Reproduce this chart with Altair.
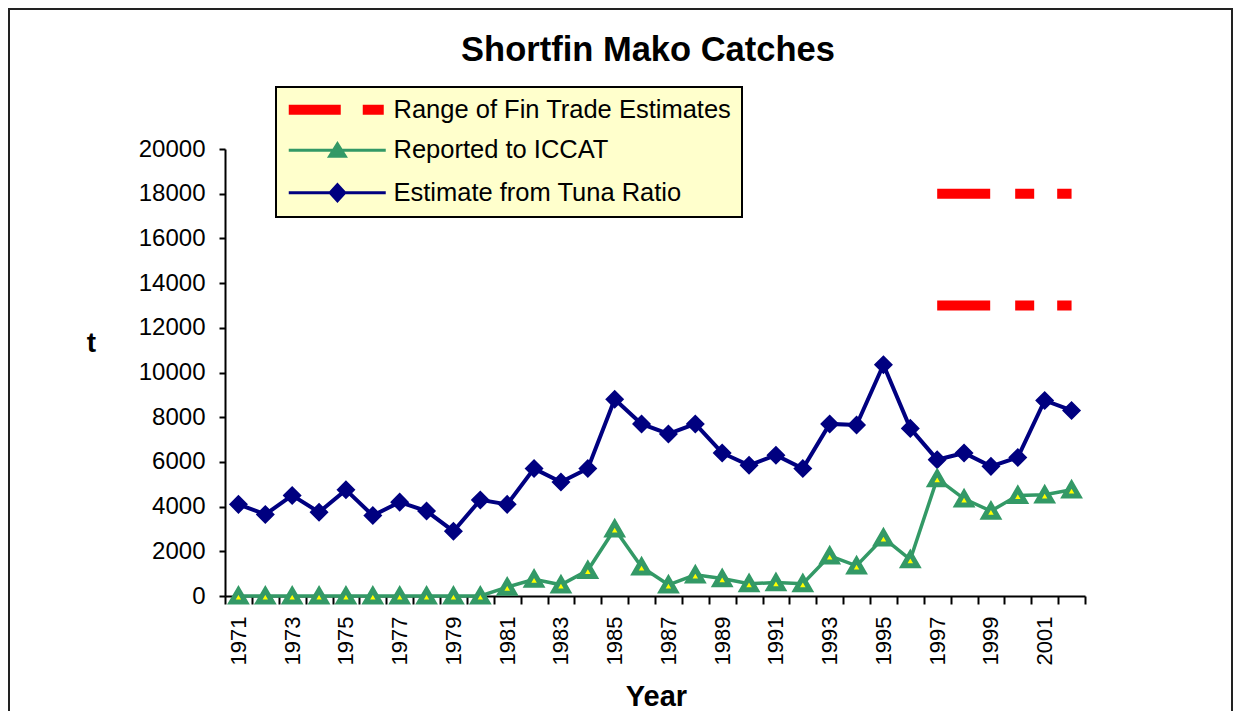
import altair as alt
import pandas as pd

FONT = "Liberation Sans"

# ---- data ----
years = [1971, 1972, 1973, 1974, 1975, 1976, 1977, 1978, 1979, 1980,
         1981, 1982, 1983, 1984, 1985, 1986, 1987, 1988, 1989, 1990,
         1991, 1992, 1993, 1994, 1995, 1996, 1997, 1998, 1999, 2000,
         2001, 2002]
tuna_ratio = [4100, 3650, 4500, 3750, 4750, 3600, 4200, 3800, 2900, 4300,
              4100, 5700, 5100, 5700, 8800, 7700, 7250, 7700, 6400, 5850,
              6300, 5700, 7700, 7650, 10350, 7500, 6100, 6400, 5800, 6200,
              8750, 8300]
iccat = [0, 0, 0, 0, 0, 0, 0, 0, 0, 0,
         400, 750, 500, 1150, 3000, 1300, 500, 950, 780, 550,
         600, 550, 1800, 1350, 2600, 1630, 5250, 4350, 3800, 4500,
         4530, 4750]
fin_years = [1997, 2002]
fin_low = 13000
fin_high = 18000

series_names = ["Range of Fin Trade Estimates", "Reported to ICCAT",
                "Estimate from Tuna Ratio"]
y_ticks = [0, 2000, 4000, 6000, 8000, 10000, 12000, 14000, 16000, 18000, 20000]

RED = "#FF0000"
GREEN = "#339966"
NAVY = "#000080"
YELLOW = "#FFFF00"

tuna_df = pd.DataFrame({"Year": years, "t": tuna_ratio})
iccat_df = pd.DataFrame({"Year": years, "t": iccat})
fin_df = pd.DataFrame({
    "Year": fin_years + fin_years,
    "t": [fin_high] * len(fin_years) + [fin_low] * len(fin_years),
    "bound": ["high"] * len(fin_years) + ["low"] * len(fin_years),
})

x_axis = alt.Axis(
    tickBand="extent",
    labelExpr="datum.value % 2 == 1 ? datum.label : ''",
    labelAngle=270, labelFontSize=22, labelFont=FONT, labelColor="black",
    labelPadding=12, labelOverlap=False,
    tickSize=8, tickWidth=2, tickColor="black",
    domainColor="black", domainWidth=2, grid=False,
    title="Year", titleFont=FONT, titleFontSize=29, titleFontWeight="bold",
    titleColor="black", titleX=431, titleY=109, titleAlign="center",
    titleBaseline="alphabetic", titleAngle=0,
)
y_axis = alt.Axis(
    values=y_ticks, format="d", labelFontSize=24, labelFont=FONT, labelColor="black",
    labelPadding=14, tickSize=6, tickWidth=2, tickColor="black",
    domainColor="black", domainWidth=2, grid=False,
    title="t", titleFont=FONT, titleFontSize=28, titleFontWeight="bold",
    titleColor="black", titleAngle=0, titleX=-134, titleY=202,
    titleAlign="center", titleBaseline="alphabetic",
)


def X():
    return alt.X("Year:O",
                 scale=alt.Scale(type="band", domain=years,
                                 paddingInner=0, paddingOuter=0),
                 bandPosition=0.5, axis=x_axis)


def Y():
    return alt.Y("t:Q", scale=alt.Scale(domain=[0, 20000], nice=False),
                 axis=y_axis)


fin_lines = alt.Chart(fin_df).mark_line(
    color=RED, strokeWidth=10, strokeDash=[53, 25, 19, 23], strokeCap="butt"
).encode(x=X(), y=Y(), detail="bound:N")

tuna_line = alt.Chart(tuna_df).mark_line(color=NAVY, strokeWidth=4).encode(x=X(), y=Y())
tuna_pts = alt.Chart(tuna_df).mark_point(
    shape="diamond", filled=True, size=240, color=NAVY, stroke=NAVY, strokeWidth=2.5, opacity=1
).encode(x=X(), y=Y())

iccat_line = alt.Chart(iccat_df).mark_line(color=GREEN, strokeWidth=3.5).encode(x=X(), y=Y())
iccat_pts = alt.Chart(iccat_df).mark_point(
    shape="triangle-up", filled=True, size=200, fill=YELLOW, stroke=GREEN,
    strokeWidth=5, opacity=1
).encode(x=X(), y=Y())

# legend (entries come from the explicit scale domain; no marks drawn)
legend_paths = [
    "M-0.85,-0.35H4.05V0.35H-0.85Z M6.55,-0.35H8.35V0.35H6.55Z",
    "M-1,0H8.7 M3.87,-0.65L4.65,0.6H3.09Z",
    "M-1,0H8.7 M3.87,-0.8L4.6,0L3.87,0.8L3.14,0Z",
]
LEG = alt.Legend(
    title=None, orient="none", legendX=51, legendY=-62,
    fillColor="#FFFFCC", strokeColor="black", padding=10,
    symbolSize=400, symbolStrokeWidth=3, symbolOpacity=1,
    labelFont=FONT, labelFontSize=25.5, labelColor="black", labelOffset=82,
    labelLimit=1000, rowPadding=13.5,
)
legend_layer = alt.Chart(alt.Data(values=[])).mark_point(
    filled=True, size=400, strokeWidth=3, opacity=1
).encode(
    shape=alt.Shape("series:N", scale=alt.Scale(domain=series_names, range=legend_paths), legend=LEG),
    fill=alt.Fill("series:N", scale=alt.Scale(domain=series_names, range=[RED, GREEN, NAVY]), legend=LEG),
    stroke=alt.Stroke("series:N", scale=alt.Scale(domain=series_names, range=[RED, GREEN, NAVY]), legend=LEG),
)

title_text = alt.Chart(alt.Data(values=[{}])).mark_text(
    text="Shortfin Mako Catches", font=FONT, fontSize=34.5, fontWeight="bold",
    color="black", align="center", baseline="alphabetic"
).encode(x=alt.value(423), y=alt.value(-88))

frame = alt.Chart(alt.Data(values=[{}])).mark_rect(
    filled=False, color="#222222", strokeWidth=2
).encode(x=alt.value(-216), x2=alt.value(1007), y=alt.value(-140), y2=alt.value(800))

chart = alt.layer(
    frame, fin_lines, tuna_line, tuna_pts, iccat_line, iccat_pts, legend_layer, title_text
).properties(
    width=860, height=447,
    autosize=alt.AutoSizeParams(type="none"),
    padding={"left": 217, "top": 141, "right": 148, "bottom": 115},
    background="white",
).configure_view(strokeWidth=0).configure_legend(strokeWidth=2)

chart.save("out.html", embed_options={"renderer": "svg", "actions": False})
